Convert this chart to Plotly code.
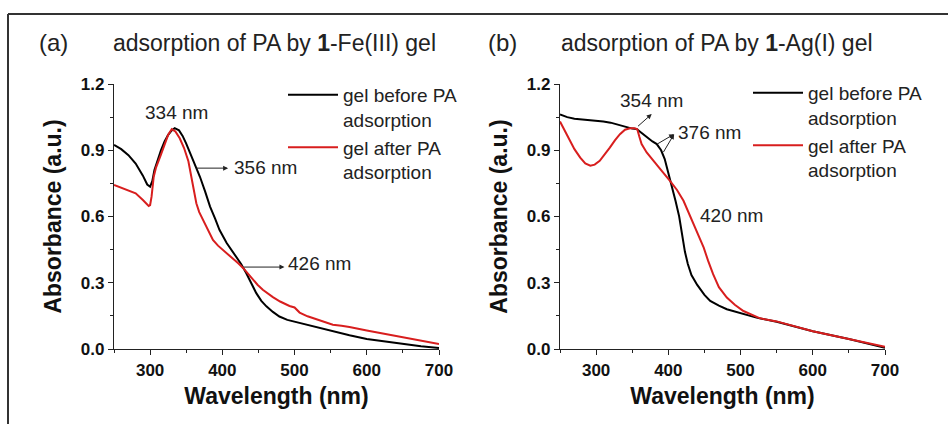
import plotly.graph_objects as go

# ---------------- data ----------------
wl_a_before = [250, 260, 270, 280, 290, 296, 300, 303, 306, 310, 315, 320, 325, 330, 334, 340, 345, 350,
               356, 362, 369, 376, 383, 390, 396, 406, 419, 426, 433, 440, 447, 454, 461, 470, 479, 490,
               507, 530, 553, 576, 600, 625, 650, 675, 700]
abs_a_before = [0.924, 0.905, 0.878, 0.84, 0.785, 0.745, 0.735, 0.76, 0.81, 0.855, 0.9, 0.94, 0.97, 0.99, 1.0,
                0.99, 0.965, 0.93, 0.885, 0.84, 0.78, 0.715, 0.645, 0.59, 0.54, 0.48, 0.419, 0.385, 0.344,
                0.3, 0.253, 0.218, 0.193, 0.168, 0.147, 0.132, 0.118, 0.098, 0.08, 0.062, 0.045, 0.033,
                0.022, 0.012, 0.005]

wl_a_after = [250, 260, 270, 280, 290, 298, 300, 302, 305, 308, 315, 320, 325, 330, 335, 341, 347, 353,
              357, 360, 364, 368, 373, 380, 387, 394, 401, 408, 415, 422, 429, 436, 442, 449, 456, 463,
              470, 480, 493, 500, 507, 518, 530, 541, 553, 565, 576, 600, 625, 650, 675, 700]
abs_a_after = [0.743, 0.73, 0.72, 0.705, 0.675, 0.648, 0.652, 0.69, 0.78, 0.82, 0.88, 0.93, 0.97, 0.996, 0.985,
               0.954, 0.91, 0.85, 0.78, 0.72, 0.66, 0.62, 0.585, 0.535, 0.494, 0.468, 0.449, 0.43, 0.41,
               0.388, 0.366, 0.34, 0.313, 0.29, 0.268, 0.25, 0.235, 0.215, 0.195, 0.188, 0.165, 0.148,
               0.135, 0.125, 0.11, 0.105, 0.1, 0.084, 0.068, 0.054, 0.038, 0.023]

wl_b_before = [250, 260, 270, 280, 292, 300, 310, 320, 330, 342, 350, 356, 362, 370, 378, 384, 390, 395,
               400, 405, 410, 415, 419, 423, 427, 432, 440, 450, 458, 470, 481, 500, 522, 550, 600, 650, 700]
abs_b_before = [1.062, 1.05, 1.043, 1.04, 1.037, 1.035, 1.03, 1.025, 1.015, 1.003, 0.998, 0.996, 0.98, 0.958,
                0.94, 0.928, 0.9, 0.86, 0.8, 0.73, 0.67, 0.6, 0.52, 0.44, 0.385, 0.335, 0.29, 0.245, 0.218,
                0.196, 0.18, 0.163, 0.142, 0.123, 0.08, 0.045, 0.006]

wl_b_after = [250, 258, 264, 270, 278, 285, 292, 298, 305, 312, 319, 326, 333, 340, 347, 353, 357, 360,
              363, 370, 379, 390, 402, 412, 421, 428, 435, 442, 449, 455, 462, 470, 481, 492, 504, 527,
              550, 600, 650, 700]
abs_b_after = [1.03, 0.98, 0.943, 0.905, 0.867, 0.84, 0.83, 0.835, 0.852, 0.88, 0.912, 0.945, 0.973, 0.993,
               1.0, 1.0, 0.995, 0.96, 0.928, 0.89, 0.852, 0.81, 0.762, 0.72, 0.671, 0.62, 0.565, 0.51,
               0.459, 0.4, 0.339, 0.28, 0.233, 0.2, 0.172, 0.139, 0.125, 0.08, 0.045, 0.01]

series_names = ["gel before PA<br>adsorption", "gel after PA<br>adsorption"]
panel_labels = ["(a)", "(b)"]
panel_titles = ["adsorption of PA by <b>1</b>-Fe(III) gel", "adsorption of PA by <b>1</b>-Ag(I) gel"]
x_ticks = [300, 400, 500, 600, 700]
y_ticks = [0.0, 0.3, 0.6, 0.9, 1.2]

BLACK = "#000000"
RED = "#d81e1e"
FONT = "Liberation Sans"
TXT = "#222222"

fig = go.Figure()

fig.add_trace(go.Scatter(x=wl_a_before, y=abs_a_before, mode="lines", name=series_names[0],
                         line=dict(color=BLACK, width=2), xaxis="x", yaxis="y", legend="legend"))
fig.add_trace(go.Scatter(x=wl_a_after, y=abs_a_after, mode="lines", name=series_names[1],
                         line=dict(color=RED, width=2), xaxis="x", yaxis="y", legend="legend"))
fig.add_trace(go.Scatter(x=wl_b_before, y=abs_b_before, mode="lines", name=series_names[0],
                         line=dict(color=BLACK, width=2), xaxis="x2", yaxis="y2", legend="legend2"))
fig.add_trace(go.Scatter(x=wl_b_after, y=abs_b_after, mode="lines", name=series_names[1],
                         line=dict(color=RED, width=2), xaxis="x2", yaxis="y2", legend="legend2"))

W, H = 948, 424


def px(x):
    return x / W


def py(y):
    return 1 - y / H


xaxis_common = dict(range=[250, 700], tickvals=x_ticks, showgrid=False, zeroline=False,
                    showline=True, linecolor="#222", linewidth=1.2, ticks="outside", ticklen=5,
                    tickwidth=1.2, tickcolor="#222",
                    minor=dict(dtick=50, tick0=250, ticks="outside", ticklen=3, tickcolor="#222", tickwidth=1),
                    tickfont=dict(family=FONT, size=17, color="#111", weight="bold"),
                    title=dict(text="Wavelength (nm)", font=dict(family=FONT, size=23, color="#111", weight="bold"),
                               standoff=9),
                    automargin=False)
yaxis_common = dict(range=[0, 1.2], tickvals=y_ticks, tickformat=".1f", showgrid=False, zeroline=False,
                    showline=True, linecolor="#222", linewidth=1.2, ticks="outside", ticklen=5,
                    tickwidth=1.2, tickcolor="#222",
                    minor=dict(dtick=0.15, tick0=0, ticks="outside", ticklen=3, tickcolor="#222", tickwidth=1),
                    tickfont=dict(family=FONT, size=17, color="#111", weight="bold"),
                    title=dict(text="Absorbance (a.u.)", font=dict(family=FONT, size=23, color="#111", weight="bold"),
                               standoff=12),
                    automargin=False)

ydom = [py(349), py(84)]
fig.update_layout(
    width=W, height=H, margin=dict(l=0, r=0, t=0, b=0),
    paper_bgcolor="white", plot_bgcolor="white",
    xaxis=dict(domain=[px(114), px(439)], anchor="y", **xaxis_common),
    yaxis=dict(domain=ydom, anchor="x", **yaxis_common),
    xaxis2=dict(domain=[px(560), px(885)], anchor="y2", **xaxis_common),
    yaxis2=dict(domain=ydom, anchor="x2", **yaxis_common),
    legend=dict(x=px(283), y=py(76), xanchor="left", yanchor="top", bgcolor="rgba(0,0,0,0)",
                font=dict(family=FONT, size=19, color=TXT), valign="top", itemwidth=50, tracegroupgap=0),
    legend2=dict(x=px(748), y=py(74), xanchor="left", yanchor="top", bgcolor="rgba(0,0,0,0)",
                 font=dict(family=FONT, size=19, color=TXT), valign="top", itemwidth=50, tracegroupgap=0),
    showlegend=True,
)

# panel labels and titles
label_pos = [(37, 43), (486, 43)]
title_pos = [(111, 43), (559, 43)]
for i in range(2):
    fig.add_annotation(text=panel_labels[i], xref="paper", yref="paper", x=px(label_pos[i][0]),
                       y=py(label_pos[i][1]), xanchor="left", yanchor="middle", showarrow=False,
                       font=dict(family=FONT, size=24, color=TXT))
    fig.add_annotation(text=panel_titles[i], xref="paper", yref="paper", x=px(title_pos[i][0]),
                       y=py(title_pos[i][1]), xanchor="left", yanchor="middle", showarrow=False,
                       font=dict(family=FONT, size=23, color=TXT))

ann_font = dict(family=FONT, size=19, color=TXT)
# panel (a) peak labels
fig.add_annotation(text="334 nm", x=337, y=1.069, xref="x", yref="y", showarrow=False, font=ann_font)
fig.add_annotation(text="356 nm", x=414, y=0.82, xref="x", yref="y", showarrow=False, font=ann_font,
                   xanchor="left")
fig.add_annotation(text="", x=408, y=0.819, ax=362, ay=0.819, xref="x", yref="y", axref="x", ayref="y",
                   showarrow=True, arrowhead=2, arrowsize=1, arrowwidth=1, arrowcolor=TXT)
fig.add_annotation(text="426 nm", x=488, y=0.385, xref="x", yref="y", showarrow=False, font=ann_font,
                   xanchor="left")
fig.add_annotation(text="", x=486, y=0.371, ax=428, ay=0.371, xref="x", yref="y", axref="x", ayref="y",
                   showarrow=True, arrowhead=2, arrowsize=1, arrowwidth=1, arrowcolor=TXT)

# panel (b) peak labels
fig.add_annotation(text="354 nm", x=376, y=1.124, xref="x2", yref="y2", showarrow=False, font=ann_font)
fig.add_annotation(text="", x=377, y=1.064, ax=356, ay=1.003, xref="x2", yref="y2", axref="x2", ayref="y2",
                   showarrow=True, arrowhead=2, arrowsize=1, arrowwidth=1, arrowcolor=TXT)
fig.add_annotation(text="376 nm", x=410, y=0.979, xref="x2", yref="y2", showarrow=False, font=ann_font,
                   xanchor="left")
fig.add_annotation(text="", x=408, y=0.973, ax=383, ay=0.925, xref="x2", yref="y2", axref="x2", ayref="y2",
                   showarrow=True, arrowhead=2, arrowsize=1, arrowwidth=1, arrowcolor=TXT)
fig.add_annotation(text="", x=408, y=0.973, ax=392, ay=0.885, xref="x2", yref="y2", axref="x2", ayref="y2",
                   showarrow=True, arrowhead=2, arrowsize=1, arrowwidth=1, arrowcolor=TXT)
fig.add_annotation(text="420 nm", x=441, y=0.603, xref="x2", yref="y2", showarrow=False, font=ann_font,
                   xanchor="left")

# figure frame (top and left edges visible)
fig.add_shape(type="line", xref="paper", yref="paper", x0=px(8), y0=py(14), x1=1.0, y1=py(14),
              line=dict(color="#333", width=2))
fig.add_shape(type="line", xref="paper", yref="paper", x0=px(8), y0=py(14), x1=px(8), y1=0,
              line=dict(color="#333", width=2))

fig.write_html("out.html")
